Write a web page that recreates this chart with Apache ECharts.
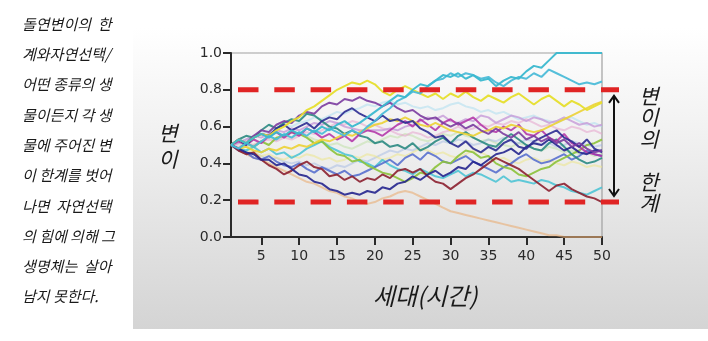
<!DOCTYPE html>
<html>
<head>
<meta charset="utf-8">
<script src="https://cdn.jsdelivr.net/npm/echarts@6/dist/echarts.min.js"></script>
<style>
  html, body { margin: 0; padding: 0; background: #ffffff; }
  #chart { width: 708px; height: 341px; }
</style>
</head>
<body>
<div id="chart"></div>
<script>
// Generations on the x axis
const generations = [
  1, 2, 3, 4, 5, 6, 7, 8, 9, 10,
  11, 12, 13, 14, 15, 16, 17, 18, 19, 20,
  21, 22, 23, 24, 25, 26, 27, 28, 29, 30,
  31, 32, 33, 34, 35, 36, 37, 38, 39, 40,
  41, 42, 43, 44, 45, 46, 47, 48, 49, 50
];
const xTickValues = [5, 10, 15, 20, 25, 30, 35, 40, 45, 50];
// Upper and lower limits of variation
const limitValues = [0.8, 0.19];

// Variation of each lineage per generation
const cyanTop = [
  .50, .53, .51, .54, .56, .54, .57, .55, .58, .56,
  .59, .57, .60, .58, .61, .63, .60, .62, .65, .68,
  .71, .74, .77, .76, .80, .83, .82, .85, .88, .87,
  .89, .86, .88, .85, .86, .82, .85, .87, .86, .90,
  .93, .92, .96, 1.0, 1.0, 1.0, 1.0, 1.0, 1.0, 1.0
];
const cyanHigh = [
  .50, .48, .51, .49, .52, .55, .53, .56, .54, .57,
  .55, .58, .56, .59, .57, .55, .58, .56, .60, .63,
  .67, .70, .74, .76, .79, .78, .82, .85, .86, .89,
  .87, .89, .88, .86, .87, .84, .82, .85, .87, .86,
  .89, .87, .91, .89, .87, .85, .83, .84, .83, .845
];
const yellowHigh = [
  .50, .53, .51, .54, .56, .55, .58, .60, .63, .65,
  .69, .71, .74, .77, .80, .82, .84, .83, .85, .83,
  .79, .77, .80, .82, .80, .78, .76, .78, .75, .78,
  .76, .79, .76, .74, .77, .75, .73, .76, .78, .75,
  .72, .75, .77, .74, .71, .74, .72, .69, .71, .73
];
const yellowRise = [
  .50, .48, .49, .47, .46, .48, .47, .49, .48, .50,
  .49, .51, .53, .52, .54, .56, .55, .57, .59, .61,
  .62, .64, .63, .65, .63, .61, .60, .62, .60, .58,
  .57, .56, .55, .57, .58, .60, .59, .61, .60, .58,
  .57, .58, .60, .62, .64, .66, .68, .70, .72, .735
];
const purple = [
  .50, .53, .51, .55, .58, .57, .61, .63, .62, .66,
  .68, .67, .71, .73, .72, .75, .74, .76, .74, .73,
  .71, .73, .70, .68, .69, .66, .64, .65, .62, .60,
  .62, .59, .61, .58, .56, .59, .56, .54, .57, .53,
  .55, .52, .54, .51, .53, .49, .51, .48, .46, .47
];
const navy = [
  .50, .53, .50, .54, .56, .55, .59, .61, .58, .60,
  .62, .59, .63, .65, .64, .68, .70, .67, .65, .63,
  .66, .63, .64, .62, .63, .59, .57, .54, .55, .51,
  .49, .52, .48, .46, .49, .47, .51, .53, .49, .48,
  .52, .54, .56, .58, .54, .52, .49, .53, .48, .46
];
const navyLow = [
  .50, .48, .46, .45, .42, .42, .39, .40, .37, .34,
  .33, .30, .29, .26, .25, .23, .24, .23, .25, .24,
  .27, .26, .29, .30, .33, .31, .34, .36, .33, .35,
  .38, .37, .41, .39, .42, .45, .46, .48, .45, .49,
  .51, .50, .53, .50, .47, .49, .46, .45, .47, .47
];
const maroon = [
  .50, .47, .45, .46, .42, .39, .37, .34, .36, .39,
  .41, .38, .37, .33, .34, .31, .33, .30, .32, .31,
  .34, .32, .36, .37, .35, .37, .33, .30, .29, .26,
  .29, .32, .34, .37, .40, .43, .41, .39, .37, .34,
  .31, .28, .25, .28, .29, .26, .24, .22, .21, .19
];
const orange = [
  .50, .47, .45, .43, .42, .40, .38, .36, .34, .32,
  .30, .29, .27, .25, .24, .22, .21, .19, .18, .19,
  .21, .22, .24, .25, .24, .22, .20, .18, .16, .14,
  .13, .12, .11, .10, .09, .08, .07, .06, .05, .04,
  .03, .02, .01, .01, 0, 0, 0, 0, 0, 0
];
const teal = [
  .50, .53, .55, .54, .58, .61, .59, .62, .64, .63,
  .67, .66, .63, .60, .59, .56, .58, .55, .54, .51,
  .52, .49, .50, .48, .51, .47, .49, .52, .54, .51,
  .55, .57, .54, .52, .50, .49, .53, .56, .53, .50,
  .48, .47, .51, .53, .49, .45, .42, .40, .41, .43
];
const green = [
  .50, .48, .51, .49, .52, .50, .54, .55, .57, .56,
  .54, .51, .52, .48, .45, .44, .41, .42, .39, .37,
  .35, .34, .32, .30, .32, .35, .34, .38, .41, .40,
  .44, .47, .46, .43, .44, .40, .38, .37, .34, .33,
  .35, .37, .38, .41, .43, .45, .47, .50, .51, .53
];
const magenta = [
  .50, .52, .50, .53, .51, .55, .57, .54, .57, .55,
  .59, .57, .54, .56, .53, .55, .52, .56, .58, .57,
  .55, .58, .61, .63, .60, .64, .61, .58, .62, .64,
  .61, .63, .65, .61, .58, .57, .60, .58, .61, .56,
  .55, .58, .54, .52, .56, .51, .49, .46, .45, .44
];
const lavender = [
  .50, .51, .53, .55, .54, .56, .58, .57, .59, .58,
  .60, .62, .61, .63, .62, .60, .59, .58, .58, .58,
  .58, .59, .58, .60, .61, .63, .65, .64, .66, .63,
  .62, .64, .63, .66, .65, .62, .64, .66, .65, .63,
  .65, .64, .62, .63, .65, .63, .61, .62, .60, .61
];
const pink = [
  .50, .49, .51, .50, .52, .53, .52, .54, .53, .55,
  .57, .56, .58, .60, .62, .61, .63, .62, .60, .61,
  .59, .58, .56, .55, .57, .56, .54, .55, .57, .58,
  .60, .58, .59, .61, .60, .62, .61, .63, .62, .64,
  .62, .60, .61, .59, .58, .60, .59, .57, .58, .56
];
const blue = [
  .50, .47, .46, .43, .42, .44, .41, .39, .38, .40,
  .37, .35, .38, .36, .34, .36, .33, .34, .36, .38,
  .40, .42, .39, .43, .45, .42, .46, .44, .41, .40,
  .42, .44, .41, .39, .37, .35, .38, .40, .43, .45,
  .42, .40, .41, .43, .45, .42, .44, .47, .45, .44
];
const cyanLow = [
  .50, .48, .47, .49, .46, .48, .45, .46, .43, .45,
  .48, .50, .52, .49, .47, .45, .44, .41, .40, .38,
  .42, .39, .37, .36, .34, .37, .35, .33, .32, .34,
  .36, .33, .35, .34, .32, .30, .33, .30, .31, .30,
  .29, .31, .30, .28, .27, .25, .24, .23, .25, .27
];
const paleCyan = [
  .50, .52, .53, .55, .56, .58, .59, .61, .60, .62,
  .63, .65, .64, .66, .68, .67, .69, .70, .72, .71,
  .73, .74, .72, .73, .71, .70, .71, .69, .70, .72,
  .73, .71, .70, .68, .69, .67, .68, .66, .64, .65,
  .66, .64, .63, .62, .64, .65, .63, .61, .62, .60
];
const paleYellow = [
  .50, .48, .47, .46, .44, .45, .43, .42, .44, .43,
  .45, .44, .42, .43, .41, .42, .44, .43, .45, .44,
  .42, .43, .45, .44, .46, .48, .47, .45, .46, .44,
  .43, .45, .47, .46, .44, .42, .43, .41, .40, .42,
  .43, .41, .42, .40, .39, .41, .40, .38, .39, .38
];
const paleBlue = [
  .50, .47, .45, .46, .44, .42, .43, .41, .40, .41,
  .39, .40, .38, .37, .39, .38, .40, .42, .41, .43,
  .45, .47, .46, .48, .47, .49, .51, .50, .52, .51,
  .53, .52, .50, .51, .53, .52, .54, .52, .51, .53,
  .52, .50, .51, .49, .50, .52, .51, .50, .49, .50
];
const paleGreen = [
  .50, .51, .49, .50, .52, .54, .53, .55, .54, .56,
  .55, .53, .52, .50, .51, .49, .48, .50, .52, .51,
  .53, .55, .54, .56, .55, .53, .52, .54, .56, .55,
  .57, .55, .54, .52, .53, .51, .50, .49, .51, .50,
  .48, .47, .49, .48, .46, .47, .45, .46, .44, .45
];

// Text
const noteLines = [
  '돌연변이의  한', '계와자연선택/', '어떤 종류의 생', '물이든지 각 생', '물에 주어진 변',
  '이 한계를 벗어', '나면  자연선택', '의 힘에 의해 그', '생명체는  살아', '남지 못한다.'
];
const yTitleChars = ['변', '이'];
const limitTitleChars = ['변', '이', '의', '', '한', '계'];
const xTitle = '세대(시간)';

// Lineages drawn faint first, then the strong ones on top
const lineages = [
  { data: paleGreen, color: '#b5dd9a', opacity: 0.45 },
  { data: paleBlue, color: '#9bb4e2', opacity: 0.45 },
  { data: paleYellow, color: '#ece68a', opacity: 0.55 },
  { data: paleCyan, color: '#a6dcf0', opacity: 0.5 },
  { data: orange, color: '#e9ad74', opacity: 0.6 },
  { data: pink, color: '#e6a2cc', opacity: 0.55 },
  { data: lavender, color: '#c59ad8', opacity: 0.8 },
  { data: cyanLow, color: '#45c2d4', opacity: 0.85 },
  { data: blue, color: '#5068cc', opacity: 0.85 },
  { data: green, color: '#8cc23a', opacity: 0.9 },
  { data: teal, color: '#2b8a82', opacity: 0.9 },
  { data: magenta, color: '#b02fa6', opacity: 0.85 },
  { data: yellowRise, color: '#ecd234', opacity: 0.9 },
  { data: maroon, color: '#8c2030', opacity: 0.9 },
  { data: navyLow, color: '#25258e', opacity: 0.9 },
  { data: navy, color: '#2c2c92', opacity: 0.9 },
  { data: purple, color: '#7b3ca0', opacity: 0.9 },
  { data: yellowHigh, color: '#e6de2c', opacity: 0.95 },
  { data: cyanHigh, color: '#4cbcd8', opacity: 0.95 },
  { data: cyanTop, color: '#3ab8cf', opacity: 0.95 }
];

const chart = echarts.init(document.getElementById('chart'), null, { renderer: 'canvas' });

const labelFont = 'DejaVu Sans, sans-serif';
const koFont = '"Noto Sans CJK KR", sans-serif';

const graphics = [];
// grey backdrop behind the plot
graphics.push({
  type: 'rect', z: -10, silent: true,
  shape: { x: 133, y: 28, width: 575, height: 301 },
  style: {
    fill: new echarts.graphic.LinearGradient(0, 0, 0, 1, [
      { offset: 0, color: '#ffffff' },
      { offset: 0.35, color: '#f1f1f1' },
      { offset: 1, color: '#d4d4d4' }
    ])
  }
});
// explanatory note on the left
noteLines.forEach((t, i) => {
  graphics.push({
    type: 'text', silent: true,
    x: 22, y: 24 + i * 30.3,
    style: {
      text: t, fill: '#1a1a1a', font: 'italic 15px ' + koFont,
      textVerticalAlign: 'middle', textAlign: 'left'
    }
  });
});
// y axis title, stacked
yTitleChars.forEach((c, i) => {
  graphics.push({
    type: 'text', silent: true, x: 168, y: 133 + i * 26,
    style: { text: c, fill: '#1a1a1a', font: 'italic 21px ' + koFont, textAlign: 'center', textVerticalAlign: 'middle' }
  });
});
// x axis title
graphics.push({
  type: 'text', silent: true, x: 425, y: 296,
  style: { text: xTitle, fill: '#1a1a1a', font: 'italic 24px ' + koFont, textAlign: 'center', textVerticalAlign: 'middle' }
});

const option = {
  animation: false,
  backgroundColor: 'transparent',
  grid: {
    left: 231, right: 106, top: 53, bottom: 104,
    show: true, borderColor: '#a0a0a0', borderWidth: 1.2, backgroundColor: 'transparent'
  },
  xAxis: {
    type: 'value', min: 1, max: 50,
    axisLine: { show: true, onZero: false, lineStyle: { color: '#2a2a2a', width: 2 } },
    axisTick: { show: true, inside: false, length: 8, customValues: xTickValues, lineStyle: { color: '#2a2a2a', width: 2 } },
    axisLabel: { customValues: xTickValues, margin: 12, color: '#2a2a2a', fontSize: 14, fontFamily: labelFont },
    splitLine: { show: false }
  },
  yAxis: {
    type: 'value', min: 0, max: 1, interval: 0.2,
    axisLine: { show: true, lineStyle: { color: '#2a2a2a', width: 2 } },
    axisTick: { show: true, inside: false, length: 8, lineStyle: { color: '#2a2a2a', width: 2 } },
    axisLabel: { margin: 9, color: '#2a2a2a', fontSize: 14, fontFamily: labelFont, formatter: v => v.toFixed(1) },
    splitLine: { show: false }
  },
  graphic: graphics,
  series: lineages.map((l, i) => ({
    type: 'line',
    data: generations.map((g, k) => [g, l.data[k]]),
    symbol: 'none',
    z: 2 + i * 0.01,
    lineStyle: { color: l.color, width: 2, opacity: l.opacity },
    emphasis: { disabled: true },
    clip: true
  }))
};
chart.setOption(option);

// Limit lines, arrow and label on top of the lineages
const extra = [];
limitValues.forEach(v => {
  const p = chart.convertToPixel({ gridIndex: 0 }, [1, v]);
  extra.push({
    type: 'line', silent: true, z: 50,
    shape: { x1: 238, y1: p[1], x2: 619, y2: p[1] },
    style: { stroke: '#e02424', lineWidth: 5, lineDash: [20.5, 15.8] }
  });
});
const pTop = chart.convertToPixel({ gridIndex: 0 }, [1, limitValues[0]])[1];
const pBot = chart.convertToPixel({ gridIndex: 0 }, [1, limitValues[1]])[1];
const ax = 614;
extra.push({
  type: 'line', silent: true, z: 50,
  shape: { x1: ax, y1: pTop + 6, x2: ax, y2: pBot - 6 },
  style: { stroke: '#111', lineWidth: 2 }
});
extra.push({
  type: 'polyline', silent: true, z: 50,
  shape: { points: [[ax - 5, pTop + 13], [ax, pTop + 6], [ax + 5, pTop + 13]] },
  style: { stroke: '#111', lineWidth: 2, fill: null }
});
extra.push({
  type: 'polyline', silent: true, z: 50,
  shape: { points: [[ax - 5, pBot - 13], [ax, pBot - 6], [ax + 5, pBot - 13]] },
  style: { stroke: '#111', lineWidth: 2, fill: null }
});
limitTitleChars.forEach((c, i) => {
  if (!c) return;
  extra.push({
    type: 'text', silent: true, z: 50, x: 649, y: 96 + i * 21.5,
    style: { text: c, fill: '#1a1a1a', font: 'italic 21px ' + koFont, textAlign: 'center', textVerticalAlign: 'middle' }
  });
});
chart.setOption({ graphic: graphics.concat(extra) });
</script>
</body>
</html>
